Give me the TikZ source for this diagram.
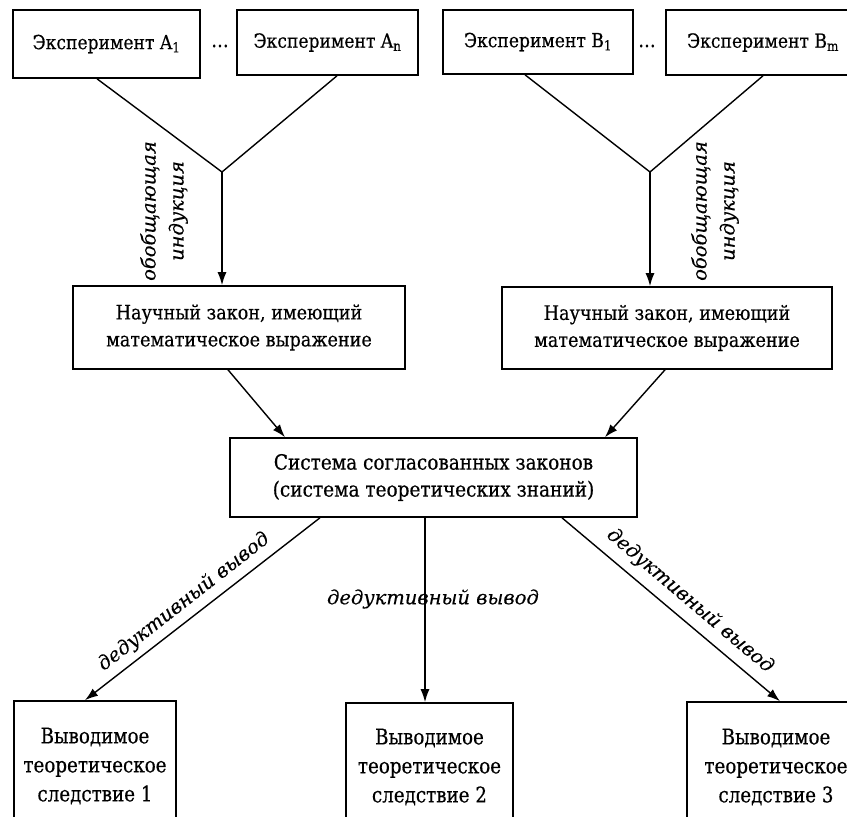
\documentclass[tikz,border=0pt]{standalone}
\usepackage{fontspec}
\setmainfont{DejaVu Serif}
\newfontfamily\nfont[FakeStretch=0.88,FakeBold=0.4]{DejaVu Serif}
\newfontfamily\condfont[FakeStretch=0.85,FakeBold=0.4]{DejaVu Serif}
\newfontfamily\labfont[FakeBold=0.3]{DejaVu Serif Italic}
\usetikzlibrary{arrows.meta,calc}
\begin{document}
\begin{tikzpicture}[x=1pt,y=-1pt,
  box/.style={draw,line width=1.6pt,inner sep=0pt,align=center,font=\nfont\fontsize{20}{27}\selectfont},
  expbox/.style={box,font=\nfont\fontsize{19.5}{24}\selectfont},
  sysbox/.style={box,font=\nfont\fontsize{21}{27}\selectfont},
  conbox/.style={box,font=\condfont\fontsize{21.5}{29}\selectfont},
  con/.style={line width=1.4pt},
  arr/.style={con,-{Latex[length=13pt,width=9pt]}},
  lab/.style={font=\labfont\fontsize{19.5}{28}\selectfont,inner sep=0pt,align=center}]
\useasboundingbox (0,0) rectangle (847,817);
% experiments
\node[expbox,minimum width=187pt,minimum height=68pt] (a1) at (106.5,44) {Эксперимент A\textsubscript{1}};
\node[expbox,minimum width=181pt,minimum height=65pt] (an) at (327.5,42.5) {Эксперимент A\textsubscript{n}};
\node[expbox,minimum width=190pt,minimum height=64pt] (b1) at (538,42) {Эксперимент B\textsubscript{1}};
\node[expbox,minimum width=194pt,minimum height=65pt] (bm) at (763,42.5) {Эксперимент B\textsubscript{m}};
\node[font=\nfont\fontsize{20}{24}\selectfont,inner sep=0pt] (da) at (220,46) {\dots};
\node[font=\nfont\fontsize{20}{24}\selectfont,inner sep=0pt] (db) at (647,46) {\dots};
% junctions
\coordinate (ja) at (222,172);
\coordinate (jb) at (650,172);
% laws
\node[box,minimum width=332pt,minimum height=83pt] (lawa) at (239,327.5) {Научный закон, имеющий\\математическое выражение};
\node[box,minimum width=330pt,minimum height=82pt] (lawb) at (667,328) {Научный закон, имеющий\\математическое выражение};
% system
\node[sysbox,minimum width=407pt,minimum height=79pt] (sys) at (433.5,477.5) {Система согласованных законов\\(система теоретических знаний)};
% consequences
\node[conbox,minimum width=162pt,minimum height=130pt] (c1) at (95,766) {Выводимое\\теоретическое\\следствие 1};
\node[conbox,minimum width=167pt,minimum height=128pt] (c2) at (429.5,767) {Выводимое\\теоретическое\\следствие 2};
\node[conbox,minimum width=178pt,minimum height=130pt] (c3) at (776,767) {Выводимое\\теоретическое\\следствие 3};
% connectors
\draw[con] ([xshift=-9.5pt]a1.south) -- (ja);
\draw[con] ([xshift=9.5pt]an.south) -- (ja);
\draw[arr] (ja) -- (ja |- lawa.north);
\draw[con] ([xshift=-13pt]b1.south) -- (jb);
\draw[con] (bm.south) -- (jb);
\draw[arr] (jb) -- (jb |- lawb.north);
\draw[arr] ([xshift=-11pt]lawa.south) -- ([xshift=-148.5pt]sys.north);
\draw[arr] ([xshift=-2pt]lawb.south) -- ([xshift=171.5pt]sys.north);
\draw[arr] ([xshift=-113.5pt]sys.south) -- ([xshift=-10pt]c1.north);
\draw[arr] ([xshift=-8.5pt]sys.south) coordinate (m) -- (m |- c2.north);
\draw[arr] ([xshift=128.5pt]sys.south) -- ([xshift=4pt]c3.north);
% labels
\node[lab,rotate=90] (ia) at (164,211) {обобщающая\\индукция};
\node[lab,rotate=90] (ib) at (715,211) {обобщающая\\индукция};
\node[lab] (dm) at (433,599) {дедуктивный вывод};
\node[lab,rotate=38] (dl) at (184,602) {дедуктивный вывод};
\node[lab,rotate=-40.3] (dr) at (690,601) {дедуктивный вывод};
\end{tikzpicture}
\end{document}
